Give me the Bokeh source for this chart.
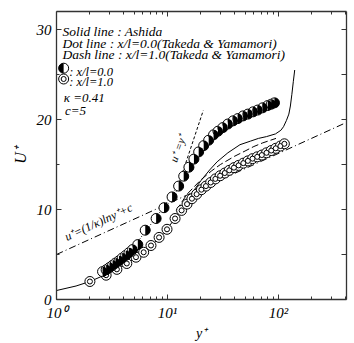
import math
from bokeh.plotting import figure
from bokeh.models import (LogAxis, LinearAxis, FixedTicker, SingleIntervalTicker,
                          CustomJSTickFormatter, BasicTickFormatter)
from bokeh.core.properties import value
from bokeh.embed import file_html
from bokeh.resources import INLINE

# ---- data ----
# half-filled circles, x/l = 0.0
filled_y = [2.6, 2.8, 3.0, 3.2, 3.4, 3.65, 3.9, 4.2, 4.5, 4.85, 5.4, 6.3, 7.9, 9.3, 11.0, 12.6,
            14.0, 15.6, 17.3, 19.1, 21.2, 23.5, 26.0, 28.5, 31.5, 35.0, 39.0, 43.0, 48.0, 53.0,
            59.0, 65.0, 72.0, 80.0, 86.0, 92.0]
filled_u = [3.1, 3.3, 3.55, 3.8, 4.05, 4.3, 4.6, 4.9, 5.2, 5.55, 6.1, 7.7, 9.0, 10.2, 11.4, 12.6,
            13.7, 14.7, 15.6, 16.4, 17.1, 17.7, 18.3, 18.7, 19.1, 19.5, 19.85, 20.1, 20.4, 20.6,
            20.85, 21.05, 21.3, 21.55, 21.7, 21.85]
# double circles, x/l = 1.0
hollow_y = [2.0, 2.8, 3.5, 4.3, 5.2, 6.1, 7.1, 8.4, 9.9, 11.7, 13.4, 15.0, 16.6, 18.3, 20.2, 22.2,
            24.5, 27.0, 29.8, 32.8, 36.0, 39.7, 43.7, 48.2, 53.0, 58.4, 64.3, 70.8, 78.0, 86.0,
            94.5, 104.0, 113.0]
hollow_u = [2.0, 2.7, 3.35, 4.0, 4.7, 5.25, 6.0, 6.9, 7.8, 9.0, 9.9, 10.6, 11.2, 11.7, 12.2, 12.6,
            13.0, 13.4, 13.75, 14.05, 14.35, 14.65, 14.9, 15.15, 15.4, 15.65, 15.85, 16.05, 16.3,
            16.55, 16.8, 17.05, 17.3]
# solid line : Ashida
ashida_y = [1, 1.5, 2, 3, 4, 5, 6, 7, 8.5, 10, 12, 14, 17, 20, 24, 28, 35, 45, 56, 66, 78, 94,
            105, 111, 118, 124, 128, 132, 136, 140]
ashida_u = [1.0, 1.5, 2.0, 2.95, 3.75, 4.5, 5.2, 5.9, 6.9, 7.9, 9.2, 10.5, 12.0, 13.2, 14.4, 15.3,
            16.3, 17.2, 17.6, 17.9, 18.1, 18.4, 18.8, 19.2, 19.9, 20.6, 21.5, 22.8, 24.2, 25.5]
# dash line : x/l = 1.0 (Takeda & Yamamori)
dash_y = [12, 15, 20, 25, 30, 40, 50, 60, 72, 85, 95]
dash_u = [9.9, 11.7, 13.3, 14.3, 15.0, 15.9, 16.5, 17.0, 17.4, 17.7, 17.9]
# dot line : x/l = 0.0 (Takeda & Yamamori)
dot_y = [3, 4, 5, 6, 8, 10, 13, 17, 22, 30, 45, 65, 92]
dot_u = [3.5, 4.8, 5.8, 7.2, 9.2, 10.9, 13.1, 15.6, 17.3, 18.8, 20.2, 21.1, 21.85]
# u+ = y+
linear_y = [12, 21]
linear_u = [12, 21]
# log law
KAPPA = 0.41
C = 5
loglaw_y = [1, 400]
loglaw_u = [C + math.log(v) / KAPPA for v in loglaw_y]

x_major = [1, 10, 100]
x_minor = [2, 3, 4, 5, 6, 7, 8, 9, 20, 30, 40, 50, 60, 70, 80, 90, 200, 300, 400]
x_labels = ["10⁰", "10¹", "10²"]

FONT = value("Liberation Serif")

p = figure(width=354, height=343, x_axis_type="log", x_range=(1, 410), y_range=(0, 32),
           output_backend="svg", toolbar_location=None,
           min_border_left=56, min_border_right=8, min_border_top=11, min_border_bottom=41)
p.grid.visible = False
p.outline_line_color = None
p.background_fill_color = "white"

AX = "#333333"

def style_axis(ax, labels=True):
    ax.axis_line_color = AX
    ax.axis_line_width = 1.3
    ax.major_tick_line_color = AX
    ax.minor_tick_line_color = AX
    ax.major_tick_in = 5
    ax.major_tick_out = 0
    ax.minor_tick_in = 3
    ax.minor_tick_out = 0
    ax.major_label_text_font = "Liberation Serif"
    ax.major_label_text_font_style = "italic"
    if labels:
        ax.major_label_text_font_size = "15px"
        ax.major_label_text_color = "black"
    else:
        ax.major_label_text_font_size = "1px"
        ax.major_label_text_alpha = 0
        ax.major_label_standoff = 0

xfmt = CustomJSTickFormatter(
    args=dict(mt=x_major, lab=x_labels),
    code="const i = mt.indexOf(tick); return i >= 0 ? lab[i] : String(tick);")

xa = p.xaxis[0]
xa.ticker = FixedTicker(ticks=x_major, minor_ticks=x_minor)
xa.formatter = xfmt
style_axis(xa)
xa.axis_label = "y⁺"
xa.axis_label_text_font = "Liberation Serif"
xa.axis_label_text_font_style = "italic"
xa.axis_label_text_font_size = "14px"
xa.axis_label_text_color = "black"
xa.axis_label_standoff = 2

ya = p.yaxis[0]
ya.ticker = SingleIntervalTicker(interval=10, num_minor_ticks=2)
style_axis(ya)
ya.axis_label = "U⁺"
ya.axis_label_text_font = "Liberation Serif"
ya.axis_label_text_font_style = "italic"
ya.axis_label_text_font_size = "16px"
ya.axis_label_text_color = "black"
ya.axis_label_standoff = 5

top = LogAxis(ticker=FixedTicker(ticks=x_major, minor_ticks=x_minor),
              formatter=CustomJSTickFormatter(code="return '.';"))
style_axis(top, labels=False)
p.add_layout(top, "above")
right = LinearAxis(ticker=SingleIntervalTicker(interval=5, num_minor_ticks=0),
                   formatter=BasicTickFormatter())
style_axis(right, labels=False)
p.add_layout(right, "right")

# lines
p.line(loglaw_y, loglaw_u, line_color="black", line_width=1, line_dash="7 3 1 3")
p.line(linear_y, linear_u, line_color="black", line_width=1, line_dash="3 2")
p.line(dot_y, dot_u, line_color="black", line_width=1, line_dash="1 2")
p.line(dash_y, dash_u, line_color="black", line_width=1, line_dash="7 3")
p.line(ashida_y, ashida_u, line_color="black", line_width=1)

# markers
p.scatter(hollow_y, hollow_u, size=10, marker="circle", fill_color="white", line_color="black", line_width=1)
p.scatter(hollow_y, hollow_u, size=5, marker="circle", fill_color="white", line_color="black", line_width=1)
p.scatter(filled_y, filled_u, size=10, marker="circle", fill_color="white", line_color="black", line_width=1)
p.wedge(filled_y, filled_u, radius=5, radius_units="screen", start_angle=-math.pi / 2,
        end_angle=math.pi / 2, fill_color="black", line_color=None)

# legend block (alphabetic baselines)
leg_x = [1.13, 1.13, 1.13]
leg_u = [29.8, 28.5, 27.2]
leg_t = ["Solid line : Ashida",
         "Dot line : x/l=0.0(Takeda & Yamamori)",
         "Dash line : x/l=1.0(Takeda & Yamamori)"]
p.text(leg_x, leg_u, text=leg_t, text_font=FONT, text_font_style="italic",
       text_font_size="13.5px", text_baseline="alphabetic", text_align="left", text_color="black")
p.scatter([1.16], [25.7], size=10, marker="circle", fill_color="white", line_color="black")
p.wedge([1.16], [25.7], radius=5, radius_units="screen", start_angle=math.pi / 2,
        end_angle=3 * math.pi / 2, fill_color="black", line_color=None)
p.scatter([1.16], [24.5], size=10, marker="circle", fill_color="white", line_color="black")
p.scatter([1.16], [24.5], size=5, marker="circle", fill_color="white", line_color="black")
p.text([1.3, 1.3], [25.3, 24.2], text=[": x/l=0.0", ": x/l=1.0"], text_font=FONT,
       text_font_style="italic", text_font_size="12.5px", text_baseline="alphabetic", text_align="left")
p.text([1.16, 1.19], [22.45, 20.95], text=["κ =0.41", "c=5"], text_font=FONT,
       text_font_style="italic", text_font_size="13px", text_baseline="alphabetic", text_align="left")

# line annotations
p.text([2.39], [8.6], text=["u⁺=(1/κ)lny⁺+c"], angle=0.433, text_font=FONT,
       text_font_style="italic", text_font_size="12px", text_baseline="middle", text_align="center")
p.text([12.4], [16.8], text=["u⁺ =y⁺"], angle=1.22, text_font=FONT,
       text_font_style="italic", text_font_size="11px", text_baseline="middle", text_align="center")

open("out.html", "w").write(file_html(p, INLINE))
